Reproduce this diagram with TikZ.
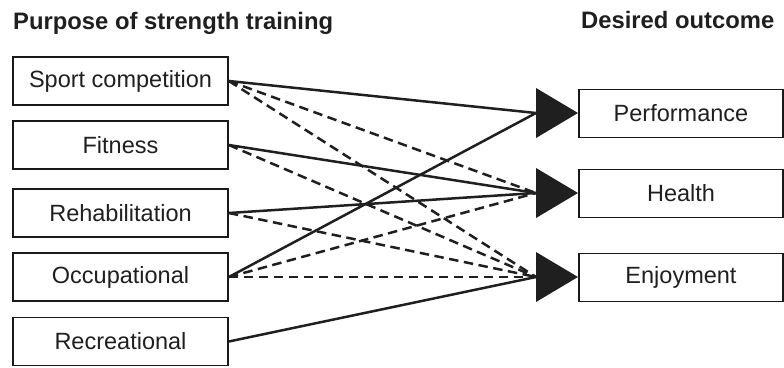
\documentclass[tikz,border=0pt]{standalone}
\usepackage{fontspec}
\setmainfont{Liberation Sans}
\usetikzlibrary{calc}
\begin{document}
\begin{tikzpicture}[x=1pt,y=1pt,
  box/.style={draw=black!90, line width=1.7pt, minimum height=48pt, inner sep=0pt,
    font=\fontsize{23.5}{26}\selectfont, text=black!88},
  lbox/.style={box, minimum width=215pt},
  rbox/.style={box, minimum width=204pt},
  title/.style={font=\bfseries\fontsize{23.8}{26}\selectfont, text=black!88, inner sep=0pt},
  solidcon/.style={line width=2.5pt, draw=black!88},
  dashcon/.style={line width=2.5pt, draw=black!88, dash pattern=on 9.5pt off 5.5pt},
  tri/.style={fill=black!88}
]
\useasboundingbox (0,0) rectangle (784,-367);

\node[title, anchor=base west] (t1) at (13,-29) {Purpose of strength training};
\node[title, anchor=base west] (t2) at (581,-28) {Desired outcome};

\node[lbox] (sport) at (120.5,-81) {Sport competition};
\node[lbox] (fit) at (120.5,-145) {Fitness};
\node[lbox] (reh) at (120.5,-213) {Rehabilitation};
\node[lbox] (occ) at (120.5,-277) {Occupational};
\node[lbox] (rec) at (120.5,-341.5) {Recreational};

\node[rbox] (perf) at (681,-113.5) {Performance};
\node[rbox] (heal) at (681,-193.5) {Health};
\node[rbox] (enj) at (681,-277.5) {Enjoyment};

\coordinate (pa) at (536,-113);
\coordinate (ha) at (536,-193);
\coordinate (ea) at (536,-277);

% connectors
\draw[solidcon] (sport.east) -- (pa);
\draw[dashcon] (sport.east) -- (ha);
\draw[dashcon] (sport.east) -- (ea);
\draw[solidcon] (fit.east) -- (ha);
\draw[dashcon] (fit.east) -- (ea);
\draw[solidcon] (reh.east) -- (ha);
\draw[dashcon] (reh.east) -- (ea);
\draw[solidcon] (occ.east) -- (pa);
\draw[dashcon] (occ.east) -- (ha);
\draw[dashcon] (occ.east) -- (ea);
\draw[solidcon] (rec.east) -- (ea);

% arrow heads
\foreach \c in {pa,ha,ea}{
  \fill[tri] ($(\c)+(0,25)$) -- ($(\c)+(42,0)$) -- ($(\c)+(0,-25)$) -- cycle;
}
\end{tikzpicture}
\end{document}
